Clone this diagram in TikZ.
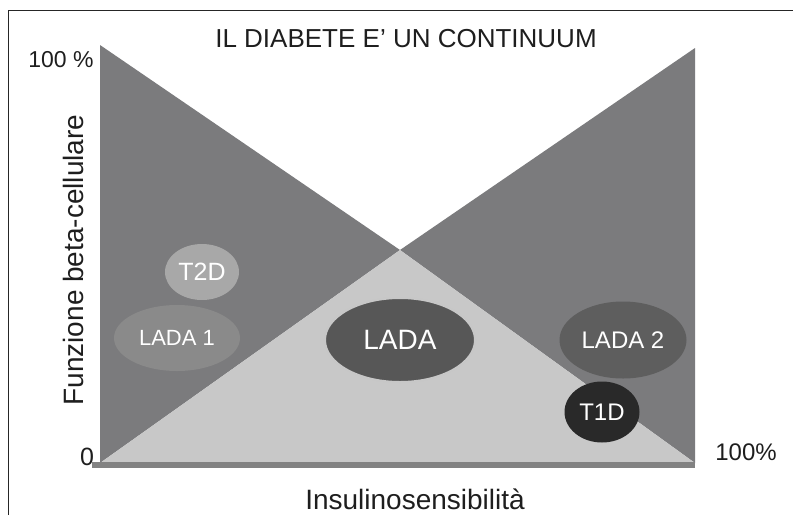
\documentclass[tikz,border=0pt]{standalone}
\usepackage{fontspec}
\setmainfont{Liberation Sans}
\usetikzlibrary{shapes.geometric}
\definecolor{darktri}{HTML}{7B7B7D}
\definecolor{lighttri}{HTML}{C8C8C8}
\definecolor{stripgray}{HTML}{828282}
\definecolor{txtgray}{HTML}{1E1E1E}
\tikzset{
  blob/.style={ellipse, inner sep=0pt, text=white},
  lbl/.style={inner sep=0pt, text=txtgray},
}
\begin{document}
\begin{tikzpicture}[x=1pt,y=-1pt]
\useasboundingbox (0,0) rectangle (793,515);
% frame
\draw[line width=1pt, black!85] (8,515) -- (8,10) -- (793,10);
% key points
\coordinate (tl) at (100,45);
\coordinate (bl) at (100,463);
\coordinate (tr) at (695,48);
\coordinate (br) at (695,463);
\coordinate (c) at (400,250);
% regions
\fill[darktri] (tl) -- (c) -- (bl) -- cycle;
\fill[darktri] (tr) -- (c) -- (br) -- cycle;
\fill[lighttri] (bl) -- (c) -- (br) -- cycle;
\fill[stripgray] (92,462) rectangle (695,468);
% ellipses
\node[blob, fill=black!46, minimum width=126pt, minimum height=66pt,
      font=\fontsize{22}{24}\selectfont] (lada1) at (177,338) {LADA 1};
\node[blob, fill=black!34, minimum width=74pt, minimum height=56pt,
      font=\fontsize{25}{28}\selectfont] (t2d) at (202,272) {T2D};
\node[blob, fill=black!66, draw=black!22, line width=2pt,
      minimum width=150pt, minimum height=84pt,
      font=\fontsize{28}{30}\selectfont] (lada) at (400,340) {LADA};
\node[blob, fill=black!63, minimum width=127pt, minimum height=77pt,
      font=\fontsize{24}{26}\selectfont] (lada2) at (623,340) {LADA 2};
\node[blob, fill=black!84, minimum width=75pt, minimum height=61pt,
      font=\fontsize{24}{26}\selectfont] (t1d) at (602,412) {T1D};
% texts
\node[lbl, anchor=base, font=\fontsize{26}{30}\selectfont] (title) at (406,47) {IL DIABETE E' UN CONTINUUM};
\node[lbl, anchor=base, font=\fontsize{23}{26}\selectfont] (ytop) at (61,67) {100 \%};
\node[lbl, anchor=base, font=\fontsize{25}{28}\selectfont] (zero) at (87,465) {0};
\node[lbl, anchor=base, font=\fontsize{24}{26}\selectfont] (xright) at (746,460) {100\%};
\node[lbl, anchor=base, font=\fontsize{28}{30}\selectfont] (xlab) at (415,509) {Insulinosensibilità};
\node[lbl, anchor=base, rotate=90, font=\fontsize{28}{30}\selectfont] (ylab) at (83,260) {Funzione beta-cellulare};
\end{tikzpicture}
\end{document}
